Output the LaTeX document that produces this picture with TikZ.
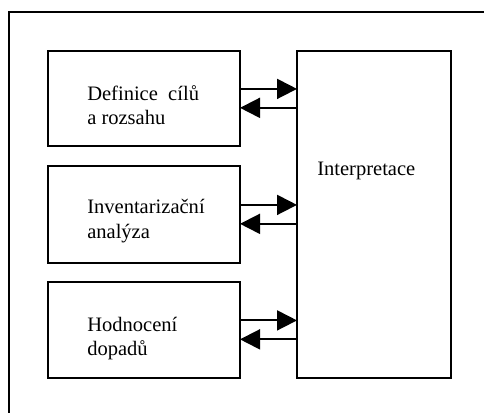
\documentclass[tikz,border=0pt]{standalone}
\usepackage{fontspec}
\setmainfont{Liberation Serif}
\usetikzlibrary{arrows.meta}
\begin{document}
\begin{tikzpicture}[x=0.75pt,y=-0.75pt,
  frame/.style={line width=1.4pt},
  box/.style={draw,line width=1.4pt,inner sep=0pt,outer sep=0pt,anchor=north west,minimum width=144pt},
  lbl/.style={inner sep=0pt,anchor=base west,font=\fontsize{15.4pt}{18pt}\selectfont},
  conn/.style={line width=1.4pt,-{Triangle[length=15pt,width=15pt]}}]
\useasboundingbox (0,0) rectangle (484,412);
\fill[white] (0,0) rectangle (484,412);
% outer frame (right and bottom edges cut off)
\draw[frame] (9,420) -- (9,12) -- (492,12);
% boxes
\node[box,minimum height=71.25pt] (b1) at (48,51) {};
\node[box,minimum height=72.75pt] (b2) at (48,166) {};
\node[box,minimum height=72pt] (b3) at (48,282) {};
\node[box,minimum width=115.5pt,minimum height=245.25pt] (int) at (297,51) {};
% labels
\node[lbl] (t1a) at (87,100) {Definice\ \ cílů};
\node[lbl] (t1b) at (87,124.5) {a rozsahu};
\node[lbl] (t2a) at (87,213) {Inventarizační};
\node[lbl] (t2b) at (87,238.5) {analýza};
\node[lbl] (t3a) at (87,331) {Hodnocení};
\node[lbl] (t3b) at (87,355) {dopadů};
\node[lbl] (ti) at (317,175) {Interpretace};
% arrows
\foreach \b in {b1,b2,b3}{
  \draw[conn] ([yshift=7.2pt]\b.east) -- ([yshift=7.2pt]\b.east -| int.west);
  \draw[conn] ([yshift=-7pt]\b.east -| int.west) -- ([yshift=-7pt]\b.east);
}
\end{tikzpicture}
\end{document}
